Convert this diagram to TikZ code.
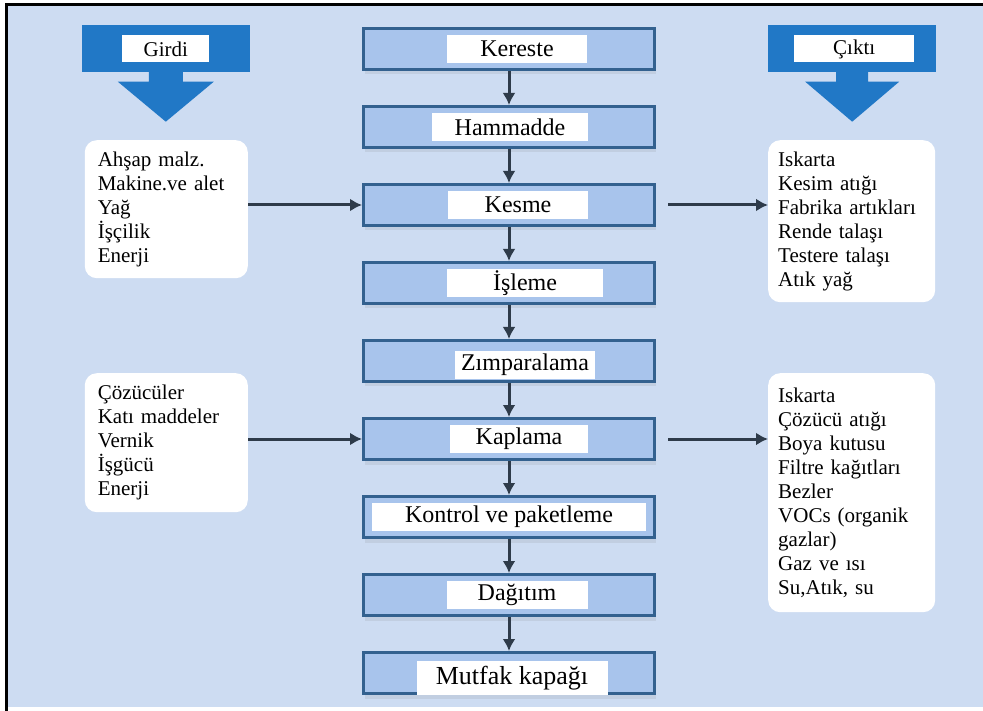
\documentclass[tikz,border=0pt]{standalone}
\usepackage{fontspec}
\setmainfont{Liberation Serif}
\usetikzlibrary{arrows.meta}
\usetikzlibrary{backgrounds}
\usetikzlibrary{positioning}
\usetikzlibrary{shadows}
\definecolor{paleblue}{HTML}{CDDCF2}
\definecolor{stageblue}{HTML}{A8C4EC}
\definecolor{stageedge}{HTML}{33618F}
\definecolor{headblue}{HTML}{2178C6}
\definecolor{flowgray}{HTML}{2E3B4A}
\tikzset{
  stage/.style={
    draw=stageedge,
    fill=stageblue,
    rectangle,
    minimum width=291pt,
    minimum height=41pt,
    node distance=34pt,
    line width=3pt,
    drop shadow={shadow xshift=1pt,shadow yshift=-5pt,opacity=.15},
  },
  tag/.style={
    fill=white,
    minimum height=28pt,
    inner xsep=4pt,
    inner ysep=0pt,
    node font=\fontsize{24}{28}\selectfont,
  },
  flow/.style={
    draw,
    >={Latex[length=12pt,width=13pt]},
    ->,
    flowgray,
    line width=3pt,
  },
  header/.style={
    fill=headblue,
    rectangle,
    minimum width=168pt,
    minimum height=47pt,
    inner sep=0,
  },
  headtag/.style={
    fill=white,
    minimum height=27pt,
    inner sep=0,
    node font=\fontsize{21}{24}\selectfont,
  },
  inlist/.style={
    fill=white,
    rounded corners=12pt,
    text width=137pt,
    inner xsep=13pt,
    align=left,
    node font=\fontsize{21}{24}\selectfont,
  },
  outlist/.style={
    inlist,
    text width=147pt,
    inner xsep=10pt,
  },
}

\begin{document}
\begin{tikzpicture}[x=1pt,y=1pt]
  \path [use as bounding box] (0,0) rectangle (983,-711);

  \node (kereste)     [stage] at (509,-49)          {};
  \node (hammadde)    [stage,below=of kereste]     {};
  \node (kesme)       [stage,below=of hammadde]    {};
  \node (isleme)      [stage,below=of kesme]       {};
  \node (zimpara)     [stage,below=of isleme]      {};
  \node (kaplama)     [stage,below=of zimpara]     {};
  \node (kontrol)     [stage,below=of kaplama]     {};
  \node (dagitim)     [stage,below=of kontrol]     {};
  \node (mutfak)      [stage,below=of dagitim]     {};

  \node (kereste tag)  [tag,minimum width=140pt] at ([xshift=8pt]kereste)  {Kereste};
  \node (hammadde tag) [tag,minimum width=156pt] at ([xshift=1pt]hammadde) {Hammadde};
  \node (kesme tag)    [tag,minimum width=140pt] at ([xshift=9pt]kesme)    {Kesme};
  \node (isleme tag)   [tag,minimum width=156pt] at ([xshift=16pt]isleme)  {İşleme};
  \node (zimpara tag)  [tag,minimum width=140pt] at ([shift={(16pt,-4pt)}]zimpara) {Zımparalama};
  \node (kaplama tag)  [tag,minimum width=138pt] at ([xshift=10pt]kaplama) {Kaplama};
  \node (kontrol tag)  [tag,minimum width=274pt] at (kontrol)              {Kontrol ve paketleme};
  \node (dagitim tag)  [tag,minimum width=141pt] at ([xshift=8pt]dagitim)  {Dağıtım};
  \node (mutfak tag)   [tag,minimum width=191pt,minimum height=34pt,node font=\fontsize{26}{30}\selectfont]
    at ([shift={(3pt,-5pt)}]mutfak) {Mutfak kapağı};

  \path [flow] (kereste) -- (hammadde);
  \path [flow] (hammadde) -- (kesme);
  \path [flow] (kesme) -- (isleme);
  \path [flow] (isleme) -- (zimpara);
  \path [flow] (zimpara) -- (kaplama);
  \path [flow] (kaplama) -- (kontrol);
  \path [flow] (kontrol) -- (dagitim);
  \path [flow] (dagitim) -- (mutfak);

  \node (girdi)     [header,left=112pt of kereste]  {};
  \node (girdi tag) [headtag,minimum width=87pt] at (girdi) {Girdi};
  \node (cikti)     [header,right=112pt of kereste] {};
  \node (cikti tag) [headtag,minimum width=120pt] at ([xshift=2pt]cikti) {Çıktı};

  \fill [headblue] ([shift={(-17pt,1pt)}]girdi.south) |- ([shift={(-48pt,-9pt)}]girdi.south)
    -- ([yshift=-49pt]girdi.south) -- ([shift={(48pt,-9pt)}]girdi.south)
    -| ([shift={(17pt,1pt)}]girdi.south) -- cycle;
  \fill [headblue] ([shift={(-16pt,1pt)}]cikti.south) |- ([shift={(-47pt,-9pt)}]cikti.south)
    -- ([yshift=-49pt]cikti.south) -- ([shift={(47pt,-9pt)}]cikti.south)
    -| ([shift={(16pt,1pt)}]cikti.south) -- cycle;

  \node (girdi list) [inlist,minimum height=138pt,below left=-65pt and 114pt of kesme.west] {%
    Ahşap malz.\\ Makine.ve alet\\ Yağ\\ İşçilik\\ Enerji};
  \node (cikti list) [outlist,minimum height=162pt,below right=-65pt and 112pt of kesme.east] {%
    Iskarta\\ Kesim atığı\\ Fabrika artıkları\\ Rende talaşı\\ Testere talaşı\\ Atık yağ};
  \node (girdi list2) [inlist,minimum height=139pt,below left=-66pt and 114pt of kaplama.west] {%
    Çözücüler\\ Katı maddeler\\ Vernik\\ İşgücü\\ Enerji};
  \node (cikti list2) [outlist,minimum height=239pt,below right=-66pt and 112pt of kaplama.east] {%
    Iskarta\\ Çözücü atığı\\ Boya kutusu\\ Filtre kağıtları\\ Bezler\\ VOCs (organik\\ gazlar)\\ Gaz ve ısı\\ Su,Atık, su};

  \path [flow] (girdi list.east |- kesme) -- (kesme.west);
  \path [flow,shorten <=12pt] (kesme.east) -- (cikti list.west |- kesme);
  \path [flow] (girdi list2.east |- kaplama) -- (kaplama.west);
  \path [flow,shorten <=12pt] (kaplama.east) -- (cikti list2.west |- kaplama);

  \begin{scope}[on background layer]
    \fill [white] (0,0) rectangle (983,-711);
    \fill [paleblue] (7,-5) rectangle (983,-707);
    \draw [line width=3pt] (6.5,-711) |- (983,-5);
  \end{scope}
\end{tikzpicture}
\end{document}
